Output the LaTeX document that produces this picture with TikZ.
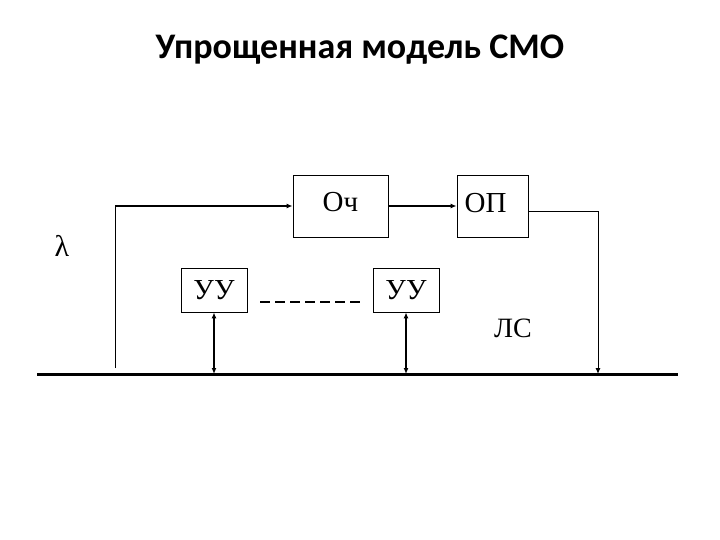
\documentclass[tikz,border=0pt]{standalone}
\usepackage{fontspec}
\setmainfont{Liberation Serif}
\newfontfamily\titlefont{Carlito}
\usetikzlibrary{positioning,arrows.meta}
\tikzset{
  smobox/.style={draw=black, line width=0.8pt, fill=white, inner sep=0pt, font=\fontsize{29}{32}\selectfont},
  plaintext/.style={inner sep=0pt, font=\fontsize{28}{32}\selectfont},
  thinline/.style={line width=1pt},
  arrow/.style={-{Latex[length=6pt,width=5pt]}, line width=2pt},
  thinarrow/.style={-{Latex[length=6pt,width=5pt]}, line width=1pt},
  dblarrow/.style={{Latex[length=6pt,width=5pt]}-{Latex[length=6pt,width=5pt]}, line width=2pt},
  busline/.style={line width=3pt}
}

\begin{document}
\begin{tikzpicture}[x=1pt, y=-1pt]
\useasboundingbox (0,0) rectangle (720,540);
\node[inner sep=0pt, font=\titlefont\bfseries\fontsize{36}{40}\selectfont] (title) at (360,50) {Упрощенная модель СМО};
\node[smobox, minimum width=95pt, minimum height=62pt] (och) at (340.5,206) {\raisebox{9pt}{Оч}};
\node[smobox, minimum width=71pt, minimum height=62pt] (op) at (492.5,206) {\raisebox{6pt}{ОП}\hspace*{14pt}};
\node[smobox, minimum width=66pt, minimum height=44pt] (uu1) at (214,290) {УУ};
\node[smobox, minimum width=66pt, minimum height=44pt] (uu2) at (406,290) {УУ};
\node[plaintext, font=\fontsize{30}{32}\selectfont] (lam) at (62,246) {λ};
\node[plaintext] (ls) at (513,328) {ЛС};
% bus line
\coordinate (busL) at (37,374);
\coordinate (busR) at (678,374);
\coordinate (in) at (115,368);
\coordinate (out) at (598,374);
\draw[busline] (busL) -- (busR);
% flow
\draw[thinline] (in) -- (in |- och.west);
\draw[arrow] (in |- och.west) -- (och.west);
\draw[arrow] (och.east) -- (op.west);
\draw[thinarrow] ([yshift=-6pt]op.east) -| (out);
\draw[dash pattern=on 10pt off 5pt, line width=1.2pt] ([xshift=13pt,yshift=-12pt]uu1.east) -- ([xshift=-13pt,yshift=-12pt]uu2.west);
\foreach \u in {uu1,uu2}{\draw[dblarrow] (\u.south) -- (\u.south |- busL);}
\end{tikzpicture}
\end{document}
